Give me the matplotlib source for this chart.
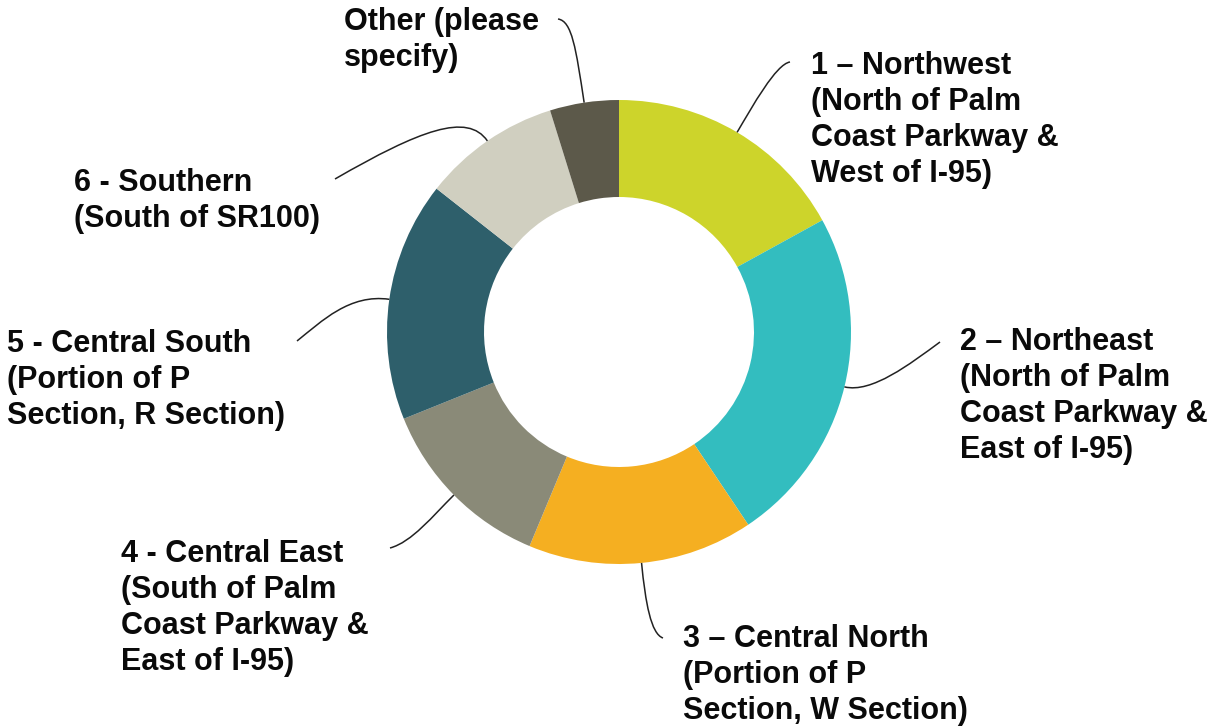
import numpy as np
import matplotlib
matplotlib.use('Agg')
import matplotlib.pyplot as plt
from matplotlib.path import Path
from matplotlib.patches import PathPatch

# survey answers: which area do you live in (share of responses, %)
regions = ['1 – Northwest', '2 – Northeast', '3 – Central North', '4 - Central East',
           '5 - Central South', '6 - Southern', 'Other (please']
details = [['(North of Palm', 'Coast Parkway &', 'West of I-95)'],
           ['(North of Palm', 'Coast Parkway &', 'East of I-95)'],
           ['(Portion of P', 'Section, W Section)'],
           ['(South of Palm', 'Coast Parkway &', 'East of I-95)'],
           ['(Portion of P', 'Section, R Section)'],
           ['(South of SR100)'],
           ['specify)']]
shares = [17.0, 23.6, 15.7, 12.6, 16.7, 9.6, 4.8]
colors = ['#CDD42B', '#33BDBF', '#F5AF21', '#8A8A78', '#2E5F6B', '#D0CFC0', '#5C594A']

W, H = 1217, 728
CX, CY, R, RING = 619, 332, 232, 97   # image pixels, y down

# label layout: left x, first baseline y, leader end, radial handle, end handle
label_pos = [(811, 74), (960, 350), (683, 647), (121, 562), (7, 352), (74, 191), (344, 30)]
leader_end = [(790, 62), (940, 342), (663, 638), (390, 548), (297, 341), (335, 179), (558, 19)]
handle_len = [30, 28, 40, 30, 40, 35, 55]
end_handle = [(-14, 2), (-30, 22), (-12, -4), (22, -6), (25, -20), (85, -49), (14, 2)]

plt.rcParams['font.family'] = ['Liberation Sans', 'DejaVu Sans']

fig = plt.figure(figsize=(W / 100, H / 100), dpi=100)
ax = fig.add_axes([0, 0, 1, 1])

wedges, _ = ax.pie(shares, colors=colors, startangle=90, counterclock=False,
                   radius=R, center=(CX, H - CY),
                   wedgeprops=dict(width=RING, edgecolor='none', linewidth=0))
ax.set_xlim(0, W)
ax.set_ylim(0, H)
ax.set_aspect('equal')
ax.axis('off')

def up(p):
    return (p[0], H - p[1])

for i, w in enumerate(wedges):
    mid = np.deg2rad((w.theta1 + w.theta2) / 2)
    p0 = (CX + R * np.cos(mid), CY - R * np.sin(mid))
    p1 = (p0[0] + handle_len[i] * np.cos(mid), p0[1] - handle_len[i] * np.sin(mid))
    p3 = leader_end[i]
    p2 = (p3[0] + end_handle[i][0], p3[1] + end_handle[i][1])
    path = Path([up(p0), up(p1), up(p2), up(p3)],
                [Path.MOVETO, Path.CURVE4, Path.CURVE4, Path.CURVE4])
    ax.add_patch(PathPatch(path, facecolor='none', edgecolor='#222222', lw=1.1))

    x, y = label_pos[i]
    for k, line in enumerate([regions[i]] + details[i]):
        ax.text(x, H - (y + 36 * k), line, fontsize=22, fontweight='bold',
                color='#0a0a0a', ha='left', va='baseline')

fig.savefig('out.png', dpi=100, facecolor='white')
